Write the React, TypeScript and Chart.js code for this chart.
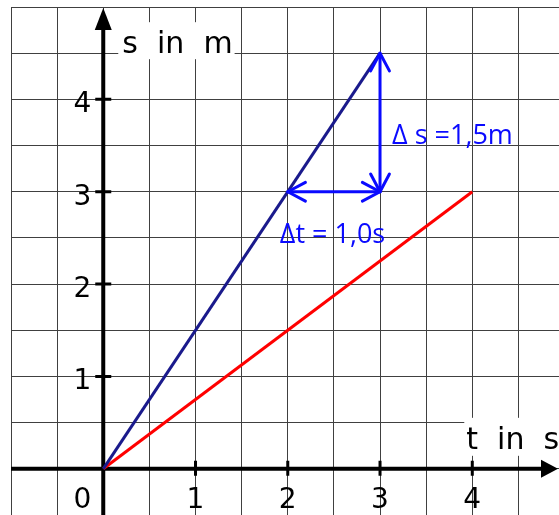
import React, { useEffect, useRef } from 'react';
import { Chart, registerables } from 'chart.js';

Chart.register(...registerables);

// ---- data ----
const blueT = [0, 3];
const blueS = [0, 4.5];
const redT = [0, 4];
const redS = [0, 3];
const xTickValues = [1, 2, 3, 4];
const yTickValues = [1, 2, 3, 4];
const originLabel = '0';
const xAxisTitle = 't  in  s';
const yAxisTitle = 's  in  m';
const deltaTFrom = [2, 3];
const deltaTTo = [3, 3];
const deltaSFrom = [3, 3];
const deltaSTo = [3, 4.5];
const deltaTLabel = 'Δt = 1,0s';
const deltaSLabel = 'Δ s =1,5m';

const toPoints = (xs: number[], ys: number[]) => xs.map((v, i) => ({ x: v, y: ys[i] }));

function chevron(ctx: CanvasRenderingContext2D, tx: number, ty: number, fx: number, fy: number) {
  // arrow head at (tx,ty) pointing away from (fx,fy)
  const ang = Math.atan2(ty - fy, tx - fx);
  const len = 20;
  const spread = (28 * Math.PI) / 180;
  ctx.beginPath();
  ctx.moveTo(tx - len * Math.cos(ang - spread), ty - len * Math.sin(ang - spread));
  ctx.lineTo(tx, ty);
  ctx.lineTo(tx - len * Math.cos(ang + spread), ty - len * Math.sin(ang + spread));
  ctx.stroke();
}

const overlayPlugin = {
  id: 'overlay',
  beforeDatasetsDraw(chart: any) {
    const { ctx, chartArea: ca, scales } = chart;
    const x = scales.x;
    const y = scales.y;
    const x0 = x.getPixelForValue(0);
    const y0 = y.getPixelForValue(0);
    ctx.save();

    // axis titles with white boxes
    ctx.font = '30px "DejaVu Sans"';
    ctx.textAlign = 'left';
    ctx.textBaseline = 'alphabetic';
    const yTitleX = x0 + 19;
    const yTitleBase = y.getPixelForValue(4.5);
    const yw = ctx.measureText(yAxisTitle).width;
    ctx.fillStyle = '#ffffff';
    ctx.fillRect(yTitleX - 4, yTitleBase - 31, yw + 6, 37);
    const xTitleX = x.getPixelForValue(4) - 6;
    const xTitleBase = y0 - 20;
    const xw = ctx.measureText(xAxisTitle).width;
    ctx.fillRect(xTitleX - 2, xTitleBase - 31, xw + 6, 38);
    ctx.fillStyle = '#000000';
    ctx.fillText(yAxisTitle, yTitleX, yTitleBase);
    ctx.fillText(xAxisTitle, xTitleX, xTitleBase);

    // axes
    ctx.strokeStyle = '#000';
    ctx.fillStyle = '#000';
    ctx.lineWidth = 4;
    const yTip = y.getPixelForValue(5) + 1;
    const xTip = ca.right - 1;
    ctx.beginPath();
    ctx.moveTo(x0, ca.bottom);
    ctx.lineTo(x0, yTip + 20);
    ctx.moveTo(ca.left, y0);
    ctx.lineTo(xTip - 16, y0);
    ctx.stroke();
    ctx.beginPath();
    ctx.moveTo(x0, yTip);
    ctx.lineTo(x0 - 8.5, yTip + 22);
    ctx.lineTo(x0 + 8.5, yTip + 22);
    ctx.closePath();
    ctx.fill();
    ctx.beginPath();
    ctx.moveTo(xTip, y0);
    ctx.lineTo(xTip - 17, y0 - 9);
    ctx.lineTo(xTip - 17, y0 + 9);
    ctx.closePath();
    ctx.fill();

    // tick marks
    ctx.lineWidth = 3;
    ctx.beginPath();
    xTickValues.forEach((v) => {
      const px = x.getPixelForValue(v);
      ctx.moveTo(px, y0 - 8);
      ctx.lineTo(px, y0 + 7);
    });
    yTickValues.forEach((v) => {
      const py = y.getPixelForValue(v);
      ctx.moveTo(x0 - 8, py);
      ctx.lineTo(x0 + 8, py);
    });
    ctx.stroke();

    // tick labels
    ctx.font = '28px "DejaVu Sans"';
    ctx.fillStyle = '#000';
    ctx.textBaseline = 'alphabetic';
    ctx.textAlign = 'center';
    xTickValues.forEach((v) => {
      ctx.fillText(String(v), x.getPixelForValue(v), y0 + 39);
    });
    ctx.textAlign = 'right';
    ctx.fillText(originLabel, x0 - 12, y0 + 39);
    yTickValues.forEach((v) => {
      ctx.fillText(String(v), x0 - 12, y.getPixelForValue(v) + 13);
    });
    ctx.restore();
  },
  afterDatasetsDraw(chart: any) {
    const { ctx, scales } = chart;
    const x = scales.x;
    const y = scales.y;
    ctx.save();
    ctx.strokeStyle = '#0a0aff';
    ctx.lineWidth = 3;
    ctx.lineCap = 'round';
    ctx.lineJoin = 'round';
    const drawDouble = (from: number[], to: number[]) => {
      const ax = x.getPixelForValue(from[0]);
      const ay = y.getPixelForValue(from[1]);
      const bx = x.getPixelForValue(to[0]);
      const by = y.getPixelForValue(to[1]);
      ctx.beginPath();
      ctx.moveTo(ax, ay);
      ctx.lineTo(bx, by);
      ctx.stroke();
      chevron(ctx, ax, ay, bx, by);
      chevron(ctx, bx, by, ax, ay);
    };
    drawDouble(deltaTFrom, deltaTTo);
    drawDouble(deltaSFrom, deltaSTo);

    ctx.fillStyle = '#0a0aff';
    ctx.font = '27px "Open Sans"';
    ctx.textAlign = 'left';
    ctx.textBaseline = 'alphabetic';
    ctx.fillText(deltaSLabel, x.getPixelForValue(deltaSTo[0]) + 12, y.getPixelForValue(3.5) - 2);
    ctx.fillText(deltaTLabel, x.getPixelForValue(deltaTFrom[0]) - 8, y.getPixelForValue(deltaTFrom[1]) + 51);
    ctx.restore();
  },
};

export default function App() {
  const canvasRef = useRef<HTMLCanvasElement | null>(null);

  useEffect(() => {
    document.body.style.margin = '0';
    const canvas = canvasRef.current;
    if (!canvas) return;
    const gridOpts = {
      color: '#404040',
      lineWidth: 1,
      drawTicks: false,
    };
    const chart = new Chart(canvas, {
      type: 'scatter',
      data: {
        datasets: [
          {
            data: toPoints(blueT, blueS),
            showLine: true,
            borderColor: '#1a1a8c',
            backgroundColor: '#1a1a8c',
            borderWidth: 3,
            pointRadius: 0,
          },
          {
            data: toPoints(redT, redS),
            showLine: true,
            borderColor: '#ff0000',
            backgroundColor: '#ff0000',
            borderWidth: 3,
            pointRadius: 0,
          },
        ],
      },
      options: {
        animation: false,
        responsive: false,
        devicePixelRatio: 1,
        layout: { padding: { left: 11, top: 7, right: 0, bottom: 0 } },
        plugins: {
          legend: { display: false },
          tooltip: { enabled: false },
          title: { display: false },
        },
        scales: {
          x: {
            type: 'linear',
            min: -1,
            max: 4.94,
            border: { display: false },
            grid: gridOpts,
            ticks: { display: false, stepSize: 0.5, maxTicksLimit: 100, includeBounds: false },
          },
          y: {
            type: 'linear',
            min: -0.5,
            max: 5,
            border: { display: false },
            grid: gridOpts,
            ticks: { display: false, stepSize: 0.5, maxTicksLimit: 100, includeBounds: false },
          },
        },
      },
      plugins: [overlayPlugin],
    });
    return () => chart.destroy();
  }, []);

  return (
    <div style={{ position: 'fixed', left: 0, top: 0, width: 559, height: 515, background: '#fff' }}>
      <canvas ref={canvasRef} width={559} height={515} style={{ display: 'block' }} />
    </div>
  );
}
